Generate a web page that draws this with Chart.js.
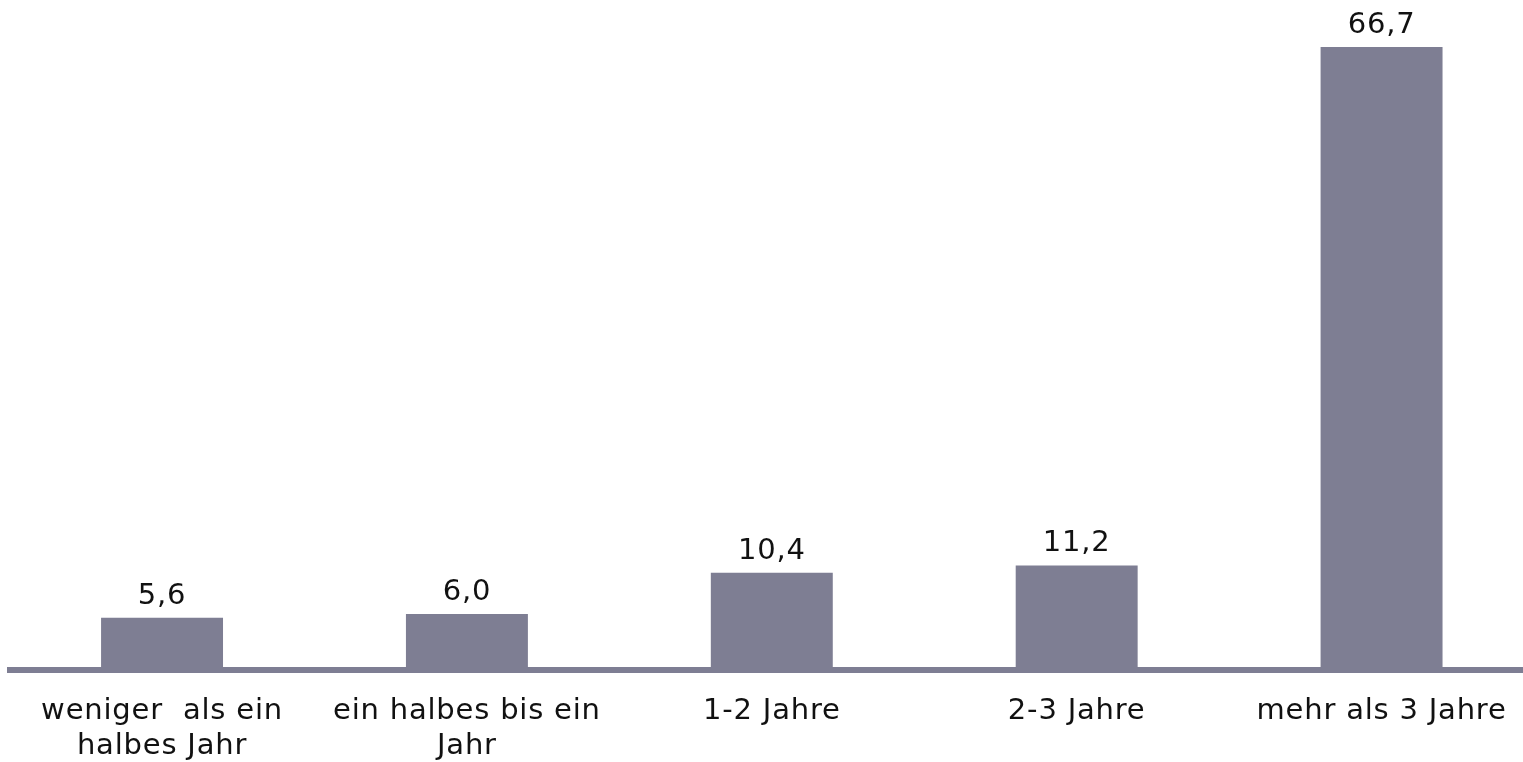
<!DOCTYPE html>
<html>
<head>
<meta charset="utf-8">
<script src="https://cdn.jsdelivr.net/npm/chart.js@4.4.0/dist/chart.umd.min.js"></script>
<style>
  html, body { margin: 0; padding: 0; background: #fff; overflow: hidden; }
  #wrap { width: 1534px; height: 762px; }
</style>
</head>
<body>
<div id="wrap"><canvas id="c" width="1534" height="762"></canvas></div>
<script>
// data
const categories = [
  ['weniger  als ein', 'halbes Jahr'],
  ['ein halbes bis ein', 'Jahr'],
  '1-2 Jahre',
  '2-3 Jahre',
  'mehr als 3 Jahre'
];
const shares = [5.6, 6.0, 10.4, 11.2, 66.7];

const barColor = '#7e7e93';
const fontFamily = '"DejaVu Sans", Verdana, sans-serif';

// the original text is a bit letter-spaced
const spacing = {
  id: 'spacing',
  beforeDraw(chart) {
    chart.ctx.letterSpacing = '0.8px';
  }
};

// value labels above the bars, german decimal comma
const valueLabels = {
  id: 'valueLabels',
  afterDatasetsDraw(chart) {
    const ctx = chart.ctx;
    const meta = chart.getDatasetMeta(0);
    ctx.save();
    ctx.font = '29px ' + fontFamily;
    ctx.fillStyle = '#111';
    ctx.textAlign = 'center';
    ctx.textBaseline = 'alphabetic';
    meta.data.forEach((bar, i) => {
      const txt = shares[i].toFixed(1).replace('.', ',');
      ctx.fillText(txt, bar.x, bar.y - 14);
    });
    ctx.restore();
  }
};

new Chart(document.getElementById('c'), {
  type: 'bar',
  plugins: [spacing, valueLabels],
  data: {
    labels: categories,
    datasets: [{
      data: shares,
      backgroundColor: barColor,
      borderWidth: 0,
      barPercentage: 0.4,
      categoryPercentage: 1.0
    }]
  },
  options: {
    responsive: false,
    devicePixelRatio: 1,
    animation: false,
    events: [],
    layout: {
      padding: { left: 9.6, right: 0, top: 0, bottom: 0 }
    },
    plugins: {
      legend: { display: false },
      tooltip: { enabled: false }
    },
    scales: {
      x: {
        grid: { display: false, drawTicks: false },
        border: { display: true, color: barColor, width: 6 },
        ticks: {
          autoSkip: false,
          maxRotation: 0,
          minRotation: 0,
          padding: 24,
          color: '#111',
          font: { family: fontFamily, size: 29, lineHeight: '35px' }
        },
        afterFit(scale) {
          scale.height = 92; // axis line sits at y=670
        }
      },
      y: {
        display: false,
        min: 0,
        max: 71.73
      }
    }
  }
});
</script>
</body>
</html>
